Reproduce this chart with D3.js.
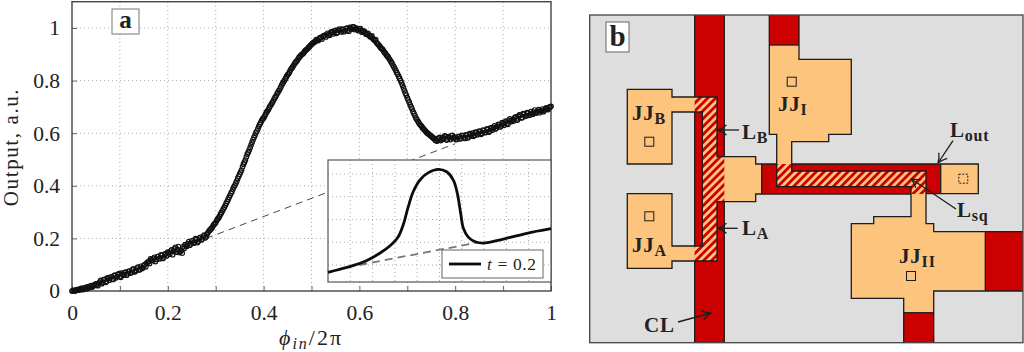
<!DOCTYPE html>
<html><head><meta charset="utf-8">
<script src="https://cdn.jsdelivr.net/npm/d3@7"></script>
<style>
html,body{margin:0;padding:0;background:#fff}
svg{display:block}
text{font-family:"Liberation Serif",serif;fill:#222}
</style></head><body><svg id="c" width="1024" height="352"></svg>
<script>
const phi=[
.000,.004,.008,.012,.016,.020,.024,.028,.032,.036,.040,.044,.048,.052,.056,.060,.064,.068,.072,.076,
.080,.084,.088,.092,.096,.100,.104,.108,.112,.116,.120,.124,.128,.132,.136,.140,.144,.148,.152,.156,
.160,.164,.168,.172,.176,.180,.184,.188,.192,.196,.200,.204,.208,.212,.216,.220,.224,.228,.232,.236,
.240,.244,.248,.252,.256,.260,.264,.268,.272,.276,.280,.284,.288,.292,.296,.300,.304,.308,.312,.316,
.320,.324,.328,.332,.336,.340,.344,.348,.352,.356,.360,.364,.368,.372,.376,.380,.384,.388,.392,.396,
.400,.404,.408,.412,.416,.420,.424,.428,.432,.436,.440,.444,.448,.452,.456,.460,.464,.468,.472,.476,
.480,.484,.488,.492,.496,.500,.504,.508,.512,.516,.520,.524,.528,.532,.536,.540,.544,.548,.552,.556,
.560,.564,.568,.572,.576,.580,.584,.588,.592,.596,.600,.604,.608,.612,.616,.620,.624,.628,.632,.636,
.640,.644,.648,.652,.656,.660,.664,.668,.672,.676,.680,.684,.688,.692,.696,.700,.704,.708,.712,.716,
.720,.724,.728,.732,.736,.740,.744,.748,.752,.756,.760,.764,.768,.772,.776,.780,.784,.788,.792,.796,
.800,.804,.808,.812,.816,.820,.824,.828,.832,.836,.840,.844,.848,.852,.856,.860,.864,.868,.872,.876,
.880,.884,.888,.892,.896,.900,.904,.908,.912,.916,.920,.924,.928,.932,.936,.940,.944,.948,.952,.956,
.960,.964,.968,.972,.976,.980,.984,.988,.992,.996,1.000];
const output=[
.000,.002,.002,.005,.006,.010,.007,.013,.016,.012,.020,.018,.024,.022,.030,.040,.034,.044,.036,.048,
.052,.046,.058,.050,.062,.056,.068,.060,.072,.066,.076,.070,.084,.074,.088,.080,.094,.088,.100,.106,
.112,.122,.116,.128,.120,.132,.126,.136,.130,.142,.148,.140,.156,.150,.166,.158,.146,.154,.168,.176,
.170,.188,.180,.192,.186,.196,.190,.204,.198,.212,.206,.222,.232,.240,.252,.260,.274,.284,.298,.312,
.326,.340,.356,.372,.388,.402,.418,.436,.452,.472,.490,.510,.528,.546,.566,.584,.602,.616,.634,.648,
.658,.672,.684,.698,.710,.722,.736,.750,.762,.776,.790,.802,.816,.826,.840,.850,.862,.872,.882,.892,
.900,.906,.916,.922,.930,.938,.944,.950,.954,.960,.964,.968,.972,.976,.974,.982,.984,.988,.980,.992,
.990,.996,.986,.998,.992,1.002,.996,1.004,.998,.994,.996,.990,.986,.982,.978,.972,.966,.960,.952,.944,
.936,.926,.920,.908,.898,.890,.878,.866,.852,.838,.824,.808,.792,.772,.752,.734,.718,.700,.682,.666,
.652,.640,.630,.620,.612,.604,.598,.592,.586,.580,.572,.578,.584,.576,.582,.588,.578,.584,.590,.580,
.584,.578,.588,.582,.590,.580,.592,.586,.596,.600,.592,.602,.598,.606,.600,.610,.604,.614,.608,.618,
.622,.616,.626,.632,.628,.636,.642,.638,.648,.644,.652,.658,.654,.664,.668,.660,.672,.666,.676,.670,
.674,.680,.676,.684,.678,.686,.682,.692,.694,.698,.702];
const phiBack=[
.002,.006,.010,.014,.018,.022,.026,.030,.034,.038,.042,.046,.050,.054,.058,.062,.066,.070,.074,.078,
.082,.086,.090,.094,.098,.102,.106,.110,.114,.118,.122,.126,.130,.134,.138,.142,.146,.150,.154,.158,
.162,.166,.170,.174,.178,.182,.186,.190,.194,.198,.202,.206,.210,.214,.218,.222,.226,.230,.234,.238,
.242,.246,.250,.254,.258,.262,.266,.270,.274,.278,.282,.286,.290,.294,.298,.302,.306,.310,.314,.318,
.322,.326,.330,.334,.338,.342,.346,.350,.354,.358,.362,.366,.370,.374,.378,.382,.386,.390,.394,.398,
.402,.406,.410,.414,.418,.422,.426,.430,.434,.438,.442,.446,.450,.454,.458,.462,.466,.470,.474,.478,
.482,.486,.490,.494,.498,.502,.506,.510,.514,.518,.522,.526,.530,.534,.538,.542,.546,.550,.554,.558,
.562,.566,.570,.574,.578,.582,.586,.590,.594,.598,.602,.606,.610,.614,.618,.622,.626,.630,.634,.638,
.642,.646,.650,.654,.658,.662,.666,.670,.674,.678,.682,.686,.690,.694,.698,.702,.706,.710,.714,.718,
.722,.726,.730,.734,.738,.742,.746,.750,.754,.758,.762,.766,.770,.774,.778,.782,.786,.790,.794,.798,
.802,.806,.810,.814,.818,.822,.826,.830,.834,.838,.842,.846,.850,.854,.858,.862,.866,.870,.874,.878,
.882,.886,.890,.894,.898,.902,.906,.910,.914,.918,.922,.926,.930,.934,.938,.942,.946,.950,.954,.958,
.962,.966,.970,.974,.978,.982,.986,.990,.994,.998];
const outputBack=[
.001,.000,.005,.003,.009,.005,.012,.008,.014,.019,.015,.022,.027,.020,.034,.028,.042,.033,.050,.041,
.054,.044,.060,.055,.066,.052,.064,.070,.060,.075,.068,.080,.073,.078,.091,.082,.086,.097,.092,.110,
.105,.118,.124,.112,.130,.122,.137,.124,.140,.134,.146,.152,.138,.160,.148,.169,.150,.144,.162,.172,
.180,.174,.190,.182,.199,.184,.201,.194,.208,.202,.216,.228,.236,.246,.256,.268,.278,.292,.305,.318,
.334,.348,.364,.378,.396,.410,.428,.444,.460,.482,.498,.520,.536,.556,.575,.592,.608,.626,.640,.654,
.664,.680,.690,.704,.716,.730,.742,.756,.768,.784,.796,.808,.822,.832,.846,.856,.868,.876,.888,.896,
.902,.912,.918,.926,.934,.942,.946,.956,.952,.963,.958,.971,.966,.980,.972,.986,.978,.991,.984,.996,
.985,.994,.990,1.000,.988,.998,1.004,.994,1.000,.990,.998,.984,.988,.976,.980,.968,.970,.956,.956,.940,
.932,.922,.914,.904,.894,.884,.872,.858,.846,.830,.816,.800,.782,.762,.744,.726,.708,.692,.674,.658,
.646,.634,.626,.616,.608,.600,.594,.588,.582,.574,.570,.582,.572,.580,.590,.574,.586,.576,.592,.584,
.576,.586,.578,.592,.584,.594,.582,.598,.590,.588,.604,.594,.608,.596,.612,.602,.616,.604,.620,.612,
.628,.620,.634,.624,.640,.630,.646,.634,.654,.648,.646,.662,.650,.670,.658,.674,.664,.678,.668,.682,
.672,.688,.680,.690,.684,.692,.686,.696,.690,.700];
const baselinePhi=[.28,.8], baselineOut=[.2,.56];
const insetPhi=[0,.052,.112,.172,.232,.277,.315,.337,.36,.382,.412,.45,.495,.532,.562,.58,.595,.607,.63,.66,.697,.757,.817,.892,1];
const insetOut=[.136,.162,.194,.238,.303,.367,.449,.552,.713,.844,.947,1.012,1.041,1.02,.947,.83,.654,.523,.443,.405,.393,.414,.443,.479,.519];
const insetBasePhi=[.14,.667], insetBaseOut=[.2,.396];
const xTicks=[0,.1,.2,.3,.4,.5,.6,.7,.8,.9,1];
const xLabels=[0,.2,.4,.6,.8,1];
const yTicks=[0,.2,.4,.6,.8,1];
const insetXTicks=[.1,.2,.3,.4,.5,.6,.7,.8,.9];
const insetYTicks=[.2,.4,.6,.8,1];

const RED="#cc0000",OR="#fcc47c",GR="#dedede",INK="#1c1c1c";
// schematic geometry of panel b, in layout units
const redRects=[[694.7,15,724.3,342.7],[769.3,15,799,45],[761.7,164,940.7,193.7],[985.3,231.7,1023,291],[903.7,312.7,933.7,342.7]];
const orangeShapes=[
 [[769.3,45],[799,45],[799,59.3],[851.3,59.3],[851.3,134.3],[828.7,134.3],[828.7,141.7],[791.7,141.7],[791.7,164],[776.7,164],[776.7,134.3],[769.3,134.3]],
 [[627.3,89.3],[672,89.3],[672,97],[694.7,97],[694.7,112],[672,112],[672,164],[627.3,164]],
 [[627.3,193.7],[672,193.7],[672,246],[694.7,246],[694.7,261],[672,261],[672,268.3],[627.3,268.3]],
 [[724.3,156.7],[755.7,156.7],[755.7,164],[761.7,164],[761.7,194],[755.7,194],[755.7,201.7],[724.3,201.7]],
 [[940.7,164],[978.3,164],[978.3,193.7],[940.7,193.7]],
 [[911,194],[926,194],[926,223.7],[933.7,223.7],[933.7,231.7],[985.3,231.7],[985.3,291],[933.7,291],[933.7,312.7],[903.7,312.7],[903.7,298.3],[851.3,298.3],[851.3,223.7],[873.7,223.7],[873.7,216.7],[911,216.7]]
];
const hatchShapes=[
 [[694.7,97],[717,97],[717,156.7],[724.3,156.7],[724.3,201.7],[717,201.7],[717,261],[694.7,261],[694.7,246],[702.3,246],[702.3,112],[694.7,112]],
 [[776.7,164],[791.7,164],[791.7,171],[926,171],[926,194],[911,194],[911,186.7],[776.7,186.7]]
];
const outlines=[
 [[694.7,15],[694.7,97]],[[694.7,112],[694.7,246]],[[694.7,261],[694.7,342.7]],
 [[724.3,15],[724.3,156.7]],[[724.3,201.7],[724.3,342.7]],
 [[694.7,97],[672,97],[672,89.3],[627.3,89.3],[627.3,164],[672,164],[672,112],[702.3,112],[702.3,246],[672,246],[672,193.7],[627.3,193.7],[627.3,268.3],[672,268.3],[672,261],[717,261],[717,201.7],[755.7,201.7],[755.7,194],[911,194]],
 [[694.7,97],[717,97],[717,156.7],[755.7,156.7],[755.7,164],[776.7,164]],
 [[769.3,15],[769.3,134.3],[776.7,134.3],[776.7,186.7],[911,186.7],[911,216.7],[873.7,216.7],[873.7,223.7],[851.3,223.7],[851.3,298.3],[903.7,298.3],[903.7,342.7]],
 [[799,15],[799,59.3],[851.3,59.3],[851.3,134.3],[828.7,134.3],[828.7,141.7],[791.7,141.7],[791.7,171],[926,171],[926,223.7],[933.7,223.7],[933.7,231.7],[1023,231.7]],
 [[769.3,45],[799,45]],[[791.7,164],[978.3,164],[978.3,193.7],[926,193.7]],[[940.7,164],[940.7,193.7]],[[761.7,164],[761.7,194]],
 [[933.7,342.7],[933.7,291],[1023,291]],[[985.3,231.7],[985.3,291]],[[903.7,312.7],[933.7,312.7]]
];
const contactSquares=[[649.3,141.7],[649.3,216.3],[791.7,81.7],[911,276]];
const arrows=[[739,130,717.5,130],[737.7,228.3,717.5,228.3],[678,322,711,313],[953,140.7,938,163],[956,209,911,178.7]];
const labels=[["JJ","B",632,120],["JJ","A",632,252],["JJ","I",778,111],["JJ","II",899,263],["L","B",742,139],["L","A",742,235],["L","out",950,137],["L","sq",957,217],["CL","",644,332]];

const svg=d3.select("#c");
const defs=svg.append("defs");
const pat=defs.append("pattern").attr("id","hatch").attr("patternUnits","userSpaceOnUse").attr("width",5.6).attr("height",5.6).attr("patternTransform","rotate(45)");
pat.append("rect").attr("width",5.6).attr("height",5.6).attr("fill",RED);
pat.append("rect").attr("width",2.8).attr("height",5.6).attr("fill",OR);
const mk=defs.append("marker").attr("id","arr").attr("markerUnits","userSpaceOnUse").attr("viewBox","-12 -7 14 14").attr("markerWidth",14).attr("markerHeight",14).attr("orient","auto");
mk.append("path").attr("d","M-9,-5 Q-4,-1 0,0 Q-4,1 -9,5").attr("fill","none").attr("stroke",INK).attr("stroke-width",1.3);

// ---------- panel a
const x=d3.scaleLinear([0,1],[72,551]);
const y=d3.scaleLinear([0,1.1],[291,1.7]);
const a=svg.append("g");
const grid=a.append("g").attr("fill","none").attr("stroke","#aaa").attr("stroke-dasharray","1 3");
grid.selectAll(".v").data(xTicks.slice(1,-1)).join("line").attr("x1",x).attr("x2",x).attr("y1",y(0)).attr("y2",y(1.1));
grid.selectAll(".h").data(yTicks.slice(1)).join("line").attr("y1",y).attr("y2",y).attr("x1",x(0)).attr("x2",x(1));

const ax=a.append("g").attr("transform",`translate(0,${y(0)})`).call(d3.axisBottom(x).tickValues(xTicks).tickSizeInner(-5).tickSizeOuter(0).tickPadding(14)
  .tickFormat(d=>xLabels.some(v=>Math.abs(v-d)<1e-6)?d3.format("~g")(d):""));
const ay=a.append("g").attr("transform",`translate(${x(0)},0)`).call(d3.axisLeft(y).tickValues(yTicks).tickSizeInner(-5).tickSizeOuter(0).tickPadding(12).tickFormat(d3.format("~g")));
[ax,ay].forEach(g=>{g.selectAll("text").style("font-family",'"Liberation Serif",serif').style("font-size","21.5px").attr("fill","#222");
 g.selectAll("line").attr("stroke","#666");g.select(".domain").remove();});
a.append("rect").attr("x",x(0)).attr("y",y(1.1)).attr("width",x(1)-x(0)).attr("height",y(0)-y(1.1)).attr("fill","none").attr("stroke","#444").attr("stroke-width",1.4);

const ln=d3.line();
a.append("path").attr("d",ln(d3.zip(baselinePhi.map(x),baselineOut.map(y)))).attr("fill","none").attr("stroke","#333").attr("stroke-width",.9).attr("stroke-dasharray","7 5");
const scatter=a.append("g").attr("fill","none").attr("stroke","#111").attr("stroke-width",1.15);
scatter.selectAll(".f").data(d3.zip(phi,output)).join("circle").attr("cx",d=>x(d[0])).attr("cy",d=>y(d[1])).attr("r",2.3);
scatter.selectAll(".b").data(d3.zip(phiBack,outputBack)).enter().append("circle").attr("cx",d=>x(d[0])).attr("cy",d=>y(d[1])).attr("r",2.3);

a.append("rect").attr("x",112).attr("y",9).attr("width",27).attr("height",25).attr("fill","#fff").attr("stroke","#777").attr("stroke-width",1);
a.append("text").attr("x",125.5).attr("y",28).attr("text-anchor","middle").attr("font-weight","bold").attr("font-size",25).text("a");

a.append("text").attr("transform","translate(18,147) rotate(-90)").attr("text-anchor","middle").attr("font-size",21).attr("letter-spacing",1.6).text("Output, a.u.");
const xl=a.append("text").attr("x",279).attr("y",345).attr("font-size",22).attr("letter-spacing",2);
xl.append("tspan").attr("font-style","italic").text("ϕ");
xl.append("tspan").attr("font-style","italic").attr("font-size",16).attr("dy",4).text("in");
xl.append("tspan").attr("dy",-4).text("/2π");

// ---------- inset
const ix=d3.scaleLinear([0,1],[328,551]);
const iy=d3.scaleLinear([.2,1],[265,174]);
const ins=svg.append("g");
ins.append("rect").attr("x",ix(0)).attr("y",160).attr("width",ix(1)-ix(0)).attr("height",122).attr("fill","#fff");
const ig=ins.append("g").attr("fill","none").attr("stroke","#aaa").attr("stroke-dasharray","1 3");
ig.selectAll(".v").data(insetXTicks).join("line").attr("x1",ix).attr("x2",ix).attr("y1",160).attr("y2",282);
ig.selectAll(".h").data(insetYTicks).join("line").attr("y1",iy).attr("y2",iy).attr("x1",ix(0)).attr("x2",ix(1));
ins.append("rect").attr("x",ix(0)).attr("y",160).attr("width",ix(1)-ix(0)).attr("height",122).attr("fill","none").attr("stroke","#555").attr("stroke-width",1.2);
ins.append("path").attr("d",ln(d3.zip(insetBasePhi.map(ix),insetBaseOut.map(iy)))).attr("fill","none").attr("stroke","#777").attr("stroke-width",1.8).attr("stroke-dasharray","8 5");
ins.append("path").attr("d",d3.line().curve(d3.curveCatmullRom)(d3.zip(insetPhi.map(ix),insetOut.map(iy)))).attr("fill","none").attr("stroke","#0c0c0c").attr("stroke-width",2.8);
ins.append("rect").attr("x",442).attr("y",250).attr("width",101).attr("height",28).attr("fill","#fff").attr("stroke","#666").attr("stroke-width",1);
ins.append("line").attr("x1",449).attr("x2",481).attr("y1",264).attr("y2",264).attr("stroke","#0c0c0c").attr("stroke-width",2.8);
const lg=ins.append("text").attr("x",487).attr("y",270).attr("font-size",17.5).attr("letter-spacing",.6);
lg.append("tspan").attr("font-style","italic").text("t");
lg.append("tspan").text(" = 0.2");

// ---------- panel b
const bx=d3.scaleLinear([0,1024],[0,1024]), by=d3.scaleLinear([0,352],[0,352]);
const pl=d3.line().x(d=>bx(d[0])).y(d=>by(d[1]));
const b=svg.append("g");
b.append("rect").attr("x",bx(589.7)).attr("y",by(15)).attr("width",bx(1023)-bx(589.7)).attr("height",by(342.7)-by(15)).attr("fill",GR);
b.selectAll(".r").data(redRects).join("rect").attr("x",d=>bx(d[0])).attr("y",d=>by(d[1])).attr("width",d=>bx(d[2])-bx(d[0])).attr("height",d=>by(d[3])-by(d[1])).attr("fill",RED);
b.append("g").selectAll("path").data(orangeShapes).join("path").attr("d",d=>pl(d)+"Z").attr("fill",OR);
b.append("g").selectAll("path").data(hatchShapes).join("path").attr("d",d=>pl(d)+"Z").attr("fill","url(#hatch)");
b.append("g").attr("fill","none").attr("stroke",INK).attr("stroke-width",1.3).selectAll("path").data(outlines).join("path").attr("d",pl);
b.append("rect").attr("x",bx(589.7)).attr("y",by(15)).attr("width",bx(1023)-bx(589.7)).attr("height",by(342.7)-by(15)).attr("fill","none").attr("stroke","#444").attr("stroke-width",1.3);
b.append("g").selectAll("rect").data(contactSquares).join("rect").attr("x",d=>bx(d[0])-4.5).attr("y",d=>by(d[1])-4.5).attr("width",9).attr("height",9).attr("fill","none").attr("stroke",INK).attr("stroke-width",1);
b.append("rect").attr("x",bx(963.3)-4.5).attr("y",by(178.7)-4.5).attr("width",9).attr("height",9).attr("fill","none").attr("stroke",INK).attr("stroke-width",1).attr("stroke-dasharray","2 1.5");
b.append("g").selectAll("line").data(arrows).join("line").attr("x1",d=>bx(d[0])).attr("y1",d=>by(d[1])).attr("x2",d=>bx(d[2])).attr("y2",d=>by(d[3])).attr("stroke",INK).attr("stroke-width",1.3).attr("marker-end","url(#arr)");
b.append("rect").attr("x",606).attr("y",22).attr("width",23).attr("height",30).attr("fill","#fff").attr("stroke","#666").attr("stroke-width",1);
b.append("text").attr("x",617.5).attr("y",46).attr("text-anchor","middle").attr("font-weight","bold").attr("font-size",29).text("b");
const lab=b.append("g").selectAll("text").data(labels).join("text").attr("x",d=>bx(d[2])).attr("y",d=>by(d[3])).attr("font-weight","bold").attr("font-size",21).attr("letter-spacing",.8);
lab.append("tspan").text(d=>d[0]);
lab.append("tspan").attr("dy",4).attr("font-size",16).text(d=>d[1]);
</script></body></html>
